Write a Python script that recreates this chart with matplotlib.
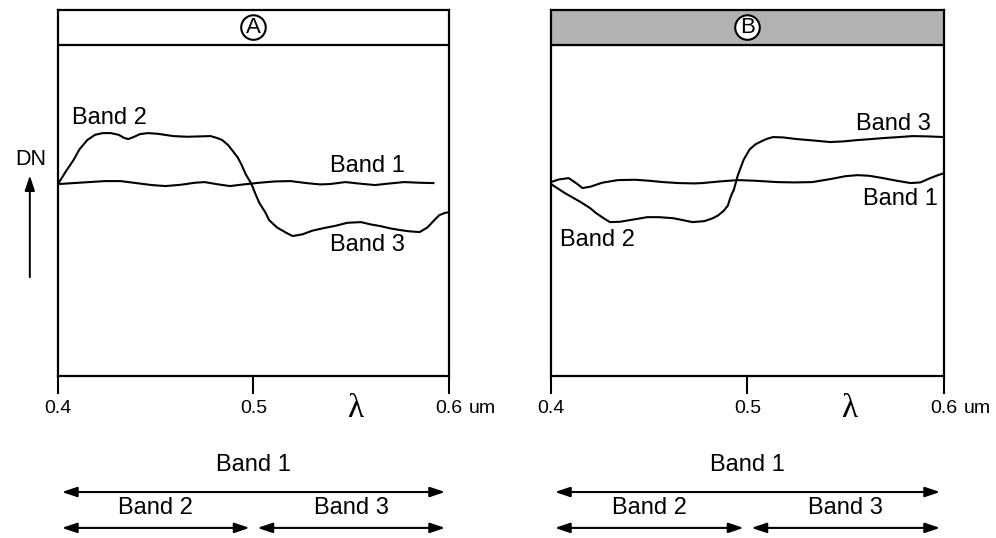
import matplotlib.pyplot as plt

plt.rcParams['font.family'] = ['Liberation Sans', 'DejaVu Sans']

# panel A curves (wavelength um, DN)
a_band1_x = [0.400, 0.408, 0.416, 0.424, 0.432, 0.440, 0.448, 0.455, 0.463, 0.470, 0.475,
             0.482, 0.488, 0.495, 0.503, 0.511, 0.519, 0.527, 0.534, 0.539, 0.547,
             0.555, 0.562, 0.570, 0.577, 0.585, 0.592]
a_band1_y = [58.0, 58.3, 58.6, 58.9, 58.9, 58.3, 57.7, 57.4, 57.8, 58.4, 58.6,
             57.9, 57.4, 57.9, 58.4, 58.8, 58.9, 58.3, 57.9, 58.0, 58.6,
             58.1, 57.7, 58.2, 58.6, 58.4, 58.3]
a_band2_x = [0.400, 0.404, 0.408, 0.411, 0.415, 0.419, 0.423, 0.427, 0.431, 0.434, 0.436,
             0.439, 0.442, 0.446, 0.451, 0.459, 0.466, 0.472, 0.478, 0.481, 0.484,
             0.487, 0.489, 0.492, 0.494, 0.496, 0.499]
a_band2_y = [58.0, 61.8, 65.3, 68.5, 71.3, 72.9, 73.4, 73.4, 72.9, 71.9, 71.6,
             72.3, 73.1, 73.4, 73.2, 72.5, 72.3, 72.4, 72.5, 72.0, 71.3,
             69.8, 68.3, 66.0, 63.7, 61.0, 58.0]
a_band3_x = [0.499, 0.501, 0.503, 0.506, 0.508, 0.512, 0.517, 0.520, 0.525, 0.530,
             0.536, 0.542, 0.548, 0.555, 0.560, 0.565, 0.570, 0.575, 0.580, 0.585,
             0.589, 0.592, 0.595, 0.598, 0.600]
a_band3_y = [58.0, 55.0, 52.3, 49.5, 47.1, 44.9, 43.2, 42.3, 42.8, 43.9,
             44.7, 45.4, 46.3, 46.5, 45.8, 45.3, 44.6, 44.1, 43.7, 43.5,
             44.9, 46.8, 48.6, 49.3, 49.5]

# panel B curves
b_band1_x = [0.400, 0.404, 0.409, 0.413, 0.416, 0.420, 0.426, 0.434, 0.443, 0.450, 0.457,
             0.465, 0.473, 0.477, 0.486, 0.495, 0.504, 0.515, 0.524, 0.533, 0.543,
             0.550, 0.556, 0.562, 0.569, 0.576, 0.583, 0.588, 0.593, 0.597, 0.600]
b_band1_y = [58.6, 59.4, 59.8, 58.2, 56.8, 57.2, 58.4, 59.2, 59.3, 59.0, 58.6,
             58.3, 58.2, 58.3, 58.8, 59.2, 59.0, 58.6, 58.5, 58.6, 59.6,
             60.4, 60.7, 60.5, 59.8, 59.0, 58.3, 58.5, 59.8, 60.7, 61.3]
b_band2_x = [0.400, 0.407, 0.415, 0.420, 0.423, 0.427, 0.430, 0.435, 0.440, 0.445, 0.449,
             0.455, 0.462, 0.468, 0.472, 0.478, 0.482, 0.485, 0.488, 0.490, 0.491,
             0.492, 0.493]
b_band2_y = [58.0, 55.3, 52.6, 50.7, 49.2, 47.6, 46.5, 46.6, 47.1, 47.6, 48.0,
             48.0, 47.7, 47.0, 46.5, 46.8, 47.6, 48.5, 50.0, 51.5, 53.4,
             55.0, 56.2]
b_band3_x = [0.493, 0.495, 0.498, 0.501, 0.504, 0.507, 0.510, 0.513, 0.518, 0.525,
             0.533, 0.542, 0.549, 0.556, 0.563, 0.569, 0.577, 0.584, 0.592, 0.600]
b_band3_y = [56.2, 60.5, 65.3, 68.4, 70.0, 70.9, 71.7, 72.2, 72.1, 71.6,
             71.2, 70.7, 70.9, 71.3, 71.6, 71.9, 72.2, 72.5, 72.4, 72.2]

# band extents on the wavelength axis
band_ranges = {'Band 1': (0.4, 0.6), 'Band 2': (0.4, 0.5), 'Band 3': (0.5, 0.6)}
xticks = [0.4, 0.5, 0.6]
xticklabels = ['0.4', '0.5', '0.6']

fig = plt.figure(figsize=(9.96, 5.38), dpi=100)
axA = fig.add_axes([0.0582, 0.3011, 0.3926, 0.6803])
axB = fig.add_axes([0.5532, 0.3011, 0.3946, 0.6803])

panels = [
    (axA, 'A', 'white', [(a_band1_x, a_band1_y), (a_band2_x, a_band2_y), (a_band3_x, a_band3_y)],
     [('Band 2', 0.4265, 78.0), ('Band 1', 0.5585, 63.5), ('Band 3', 0.5585, 39.5)]),
    (axB, 'B', '#b2b2b2', [(b_band1_x, b_band1_y), (b_band2_x, b_band2_y), (b_band3_x, b_band3_y)],
     [('Band 3', 0.5745, 76.3), ('Band 1', 0.5780, 53.5), ('Band 2', 0.4235, 41.0)]),
]

for ax, letter, hcolor, curves, labels in panels:
    ax.set_xlim(0.4, 0.6)
    ax.set_ylim(0, 110.6)
    for x, y in curves:
        ax.plot(x, y, color='black', lw=1.5, solid_joinstyle='round')
    for txt, x, y in labels:
        ax.text(x, y, txt, fontsize=17, ha='center', va='center')
    # header strip
    ax.axhspan(100, 110.6, color=hcolor, zorder=0)
    ax.axhline(100, color='black', lw=1.6)
    ax.text(0.5, 105.3, letter, fontsize=16, ha='center', va='center',
            bbox=dict(boxstyle='circle,pad=0.08', fc='white', ec='black', lw=1.5))
    for s in ax.spines.values():
        s.set_linewidth(1.6)
    ax.set_yticks([])
    ax.set_xticks(xticks)
    ax.set_xticklabels(xticklabels, fontsize=14)
    ax.tick_params(axis='x', direction='out', length=13, width=1.5, pad=4)
    ax.annotate('um', xy=(0.6, 0), xycoords=('data', 'axes fraction'),
                xytext=(20, -24), textcoords='offset pixels', fontsize=14, ha='left', va='top')
    ax.annotate('\u03bb', xy=(0.552, 0), xycoords=('data', 'axes fraction'),
                xytext=(0, -33), textcoords='offset pixels', fontsize=24, ha='center',
                va='center', family='Liberation Serif')

    # band extent arrows below the axis
    rows = [('Band 1', -0.243, -0.317), ('Band 2', -0.361, -0.415), ('Band 3', -0.361, -0.415)]
    for name, ty, ay in rows:
        lo, hi = band_ranges[name]
        ax.annotate('', xy=(lo + 0.002, ay), xytext=(hi - 0.002, ay),
                    xycoords=('data', 'axes fraction'), textcoords=('data', 'axes fraction'),
                    arrowprops=dict(arrowstyle='<|-|>,head_length=0.9,head_width=0.3',
                                    color='black', lw=1.5, shrinkA=0, shrinkB=0),
                    annotation_clip=False)
        ax.annotate(name, xy=((lo + hi) / 2, ty), xycoords=('data', 'axes fraction'),
                    fontsize=17, ha='center', va='center', annotation_clip=False)

# DN arrow on panel A
axA.annotate('', xy=(-0.072, 0.548), xytext=(-0.072, 0.270), xycoords='axes fraction',
             arrowprops=dict(arrowstyle='-|>,head_length=0.9,head_width=0.3',
                             color='black', lw=1.4, shrinkA=0, shrinkB=0))
axA.text(-0.069, 0.592, 'DN', transform=axA.transAxes, fontsize=15.5, ha='center', va='center')

fig.savefig('out.png', dpi=100)
